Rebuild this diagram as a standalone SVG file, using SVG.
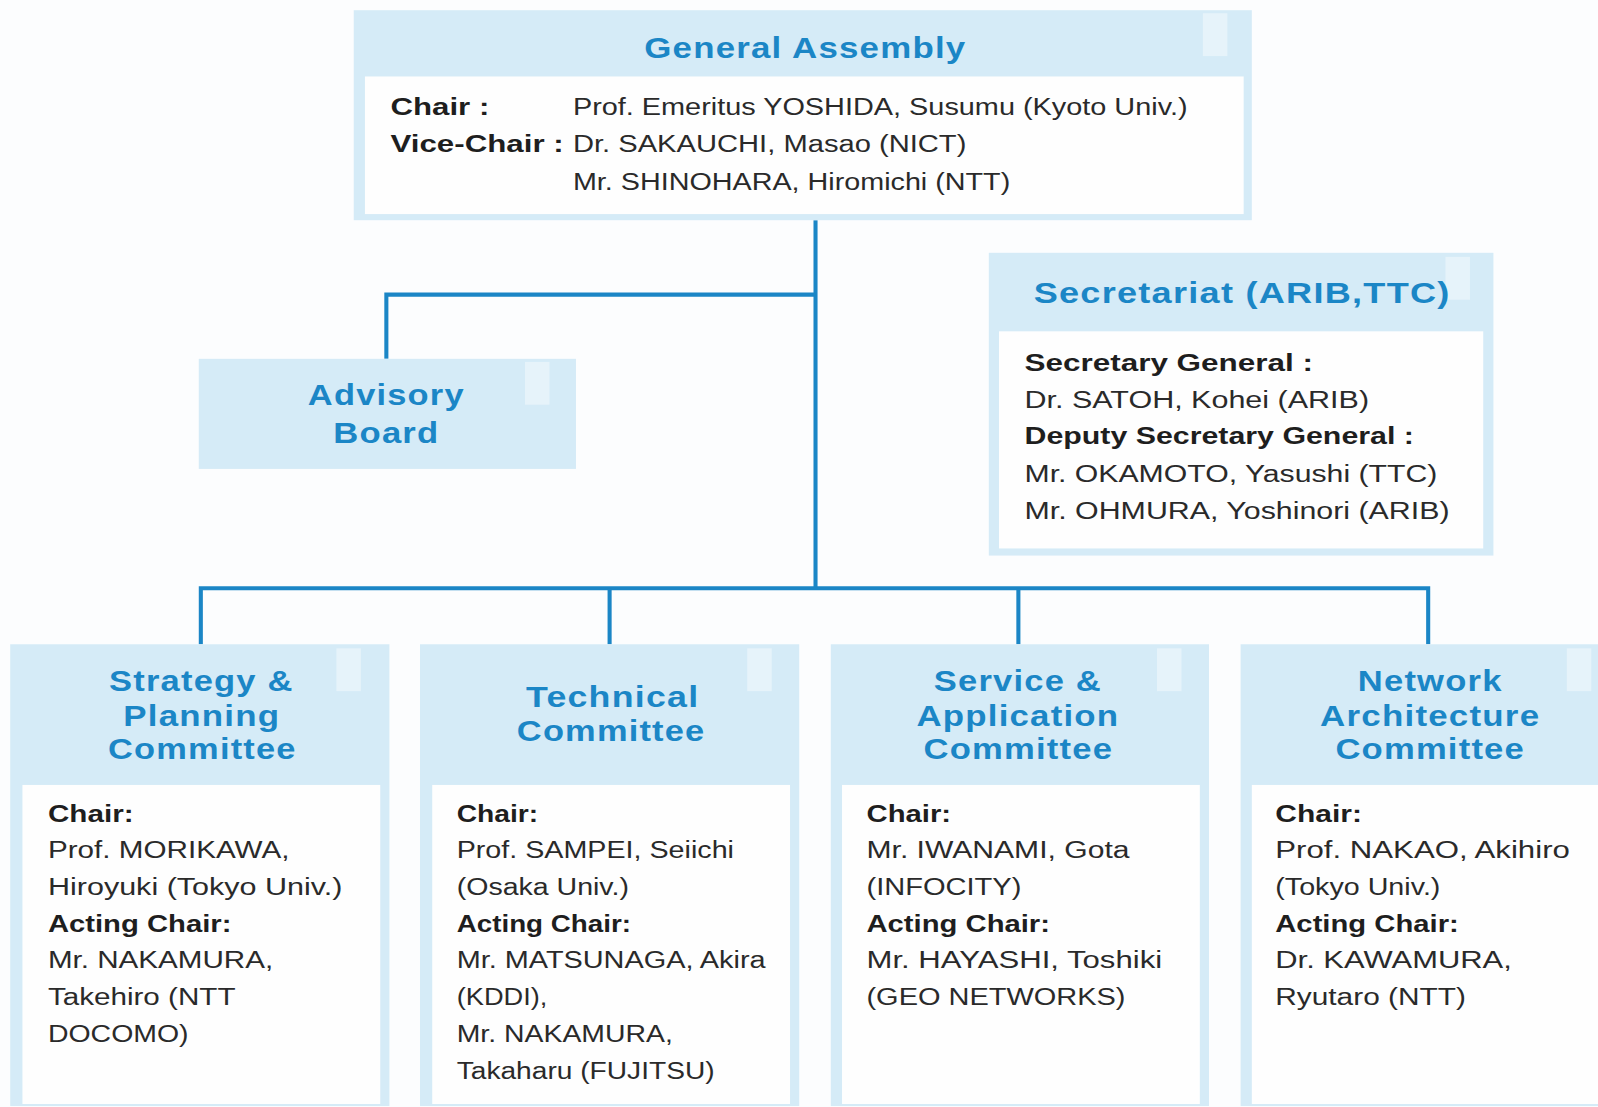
<svg xmlns="http://www.w3.org/2000/svg" width="1598" height="1107" viewBox="0 0 1598 1107">
<style>
.bg{fill:#fcfdfe}
.outer{fill:#d5ebf7}
.inner{fill:#fefefe}
.deco{fill:#e6f3fa}
.t{font-family:"Liberation Sans",Arial,sans-serif;font-weight:bold;fill:#1b86c6;text-anchor:start;font-size:29px;letter-spacing:1px}
.b{font-family:"Liberation Sans",Arial,sans-serif;font-size:23px;fill:#2a2a2a}
.bb{font-family:"Liberation Sans",Arial,sans-serif;font-size:23px;fill:#1e1e1e;font-weight:bold}
.c{fill:none;stroke:#1b86c6;stroke-width:4}
</style>
<rect class="bg" x="0" y="0" width="1598" height="1107"/>
<g transform="scale(1.0194)">
<g id="connectors">
<polyline class="c" points="800,216 800,577"/>
<polyline class="c" points="800,289 379,289 379,352"/>
<polyline class="c" points="197,632 197,577 1401,577 1401,632"/>
<polyline class="c" points="598,577 598,632"/>
<polyline class="c" points="999,577 999,632"/>
</g>
<g id="general-assembly">
<rect class="outer" x="347" y="10" width="881" height="206"/>
<rect class="deco" x="1180" y="13" width="24" height="42"/>
<rect class="inner" x="358" y="75" width="862" height="135"/>
<text class="t" x="632" y="57" textLength="316" lengthAdjust="spacingAndGlyphs">General Assembly</text>
<text class="bb" x="383" y="113" textLength="97" lengthAdjust="spacingAndGlyphs">Chair :</text>
<text class="b" x="562" y="113" textLength="603" lengthAdjust="spacingAndGlyphs">Prof. Emeritus YOSHIDA, Susumu (Kyoto Univ.)</text>
<text class="bb" x="383" y="149" textLength="170" lengthAdjust="spacingAndGlyphs">Vice-Chair :</text>
<text class="b" x="562" y="149" textLength="386" lengthAdjust="spacingAndGlyphs">Dr. SAKAUCHI, Masao (NICT)</text>
<text class="b" x="562" y="186" textLength="429" lengthAdjust="spacingAndGlyphs">Mr. SHINOHARA, Hiromichi (NTT)</text>
</g>
<g id="advisory-board">
<rect class="outer" x="195" y="352" width="370" height="108"/>
<rect class="deco" x="515" y="355" width="24" height="42"/>
<text class="t" x="302" y="397" textLength="154" lengthAdjust="spacingAndGlyphs">Advisory</text>
<text class="t" x="327" y="435" textLength="104" lengthAdjust="spacingAndGlyphs">Board</text>
</g>
<g id="secretariat">
<rect class="outer" x="970" y="248" width="495" height="297"/>
<rect class="deco" x="1418" y="252" width="24" height="42"/>
<rect class="inner" x="980" y="325" width="475" height="213"/>
<text class="t" x="1014" y="297" textLength="409" lengthAdjust="spacingAndGlyphs">Secretariat (ARIB,TTC)</text>
<text class="bb" x="1005" y="364" textLength="283" lengthAdjust="spacingAndGlyphs">Secretary General :</text>
<text class="b" x="1005" y="400" textLength="338" lengthAdjust="spacingAndGlyphs">Dr. SATOH, Kohei (ARIB)</text>
<text class="bb" x="1005" y="436" textLength="382" lengthAdjust="spacingAndGlyphs">Deputy Secretary General :</text>
<text class="b" x="1005" y="473" textLength="405" lengthAdjust="spacingAndGlyphs">Mr. OKAMOTO, Yasushi (TTC)</text>
<text class="b" x="1005" y="509" textLength="417" lengthAdjust="spacingAndGlyphs">Mr. OHMURA, Yoshinori (ARIB)</text>
</g>
<g id="strategy-planning">
<rect class="outer" x="10" y="632" width="372" height="453"/>
<rect class="deco" x="330" y="636" width="24" height="42"/>
<rect class="inner" x="22" y="770" width="351" height="313"/>
<text class="t" x="107" y="678" textLength="181" lengthAdjust="spacingAndGlyphs">Strategy &amp;</text>
<text class="t" x="121" y="712" textLength="154" lengthAdjust="spacingAndGlyphs">Planning</text>
<text class="t" x="106" y="745" textLength="185" lengthAdjust="spacingAndGlyphs">Committee</text>
<text class="bb" x="47" y="806" textLength="84" lengthAdjust="spacingAndGlyphs">Chair:</text>
<text class="b" x="47" y="842" textLength="237" lengthAdjust="spacingAndGlyphs">Prof. MORIKAWA,</text>
<text class="b" x="47" y="878" textLength="289" lengthAdjust="spacingAndGlyphs">Hiroyuki (Tokyo Univ.)</text>
<text class="bb" x="47" y="914" textLength="180" lengthAdjust="spacingAndGlyphs">Acting Chair:</text>
<text class="b" x="47" y="950" textLength="221" lengthAdjust="spacingAndGlyphs">Mr. NAKAMURA,</text>
<text class="b" x="47" y="986" textLength="184" lengthAdjust="spacingAndGlyphs">Takehiro (NTT</text>
<text class="b" x="47" y="1022" textLength="138" lengthAdjust="spacingAndGlyphs">DOCOMO)</text>
</g>
<g id="technical">
<rect class="outer" x="412" y="632" width="372" height="453"/>
<rect class="deco" x="733" y="636" width="24" height="42"/>
<rect class="inner" x="424" y="770" width="351" height="313"/>
<text class="t" x="516" y="694" textLength="170" lengthAdjust="spacingAndGlyphs">Technical</text>
<text class="t" x="507" y="727" textLength="185" lengthAdjust="spacingAndGlyphs">Committee</text>
<text class="bb" x="448" y="806" textLength="80" lengthAdjust="spacingAndGlyphs">Chair:</text>
<text class="b" x="448" y="842" textLength="272" lengthAdjust="spacingAndGlyphs">Prof. SAMPEI, Seiichi</text>
<text class="b" x="448" y="878" textLength="169" lengthAdjust="spacingAndGlyphs">(Osaka Univ.)</text>
<text class="bb" x="448" y="914" textLength="171" lengthAdjust="spacingAndGlyphs">Acting Chair:</text>
<text class="b" x="448" y="950" textLength="303" lengthAdjust="spacingAndGlyphs">Mr. MATSUNAGA, Akira</text>
<text class="b" x="448" y="986" textLength="89" lengthAdjust="spacingAndGlyphs">(KDDI),</text>
<text class="b" x="448" y="1022" textLength="212" lengthAdjust="spacingAndGlyphs">Mr. NAKAMURA,</text>
<text class="b" x="448" y="1058" textLength="253" lengthAdjust="spacingAndGlyphs">Takaharu (FUJITSU)</text>
</g>
<g id="service-application">
<rect class="outer" x="815" y="632" width="371" height="453"/>
<rect class="deco" x="1135" y="636" width="24" height="42"/>
<rect class="inner" x="826" y="770" width="351" height="313"/>
<text class="t" x="916" y="678" textLength="165" lengthAdjust="spacingAndGlyphs">Service &amp;</text>
<text class="t" x="899" y="712" textLength="199" lengthAdjust="spacingAndGlyphs">Application</text>
<text class="t" x="906" y="745" textLength="186" lengthAdjust="spacingAndGlyphs">Committee</text>
<text class="bb" x="850" y="806" textLength="83" lengthAdjust="spacingAndGlyphs">Chair:</text>
<text class="b" x="850" y="842" textLength="258" lengthAdjust="spacingAndGlyphs">Mr. IWANAMI, Gota</text>
<text class="b" x="850" y="878" textLength="152" lengthAdjust="spacingAndGlyphs">(INFOCITY)</text>
<text class="bb" x="850" y="914" textLength="180" lengthAdjust="spacingAndGlyphs">Acting Chair:</text>
<text class="b" x="850" y="950" textLength="290" lengthAdjust="spacingAndGlyphs">Mr. HAYASHI, Toshiki</text>
<text class="b" x="850" y="986" textLength="254" lengthAdjust="spacingAndGlyphs">(GEO NETWORKS)</text>
</g>
<g id="network-architecture">
<rect class="outer" x="1217" y="632" width="381" height="453"/>
<rect class="deco" x="1537" y="636" width="24" height="42"/>
<rect class="inner" x="1228" y="770" width="370" height="313"/>
<text class="t" x="1332" y="678" textLength="142" lengthAdjust="spacingAndGlyphs">Network</text>
<text class="t" x="1295" y="712" textLength="216" lengthAdjust="spacingAndGlyphs">Architecture</text>
<text class="t" x="1310" y="745" textLength="186" lengthAdjust="spacingAndGlyphs">Committee</text>
<text class="bb" x="1251" y="806" textLength="85" lengthAdjust="spacingAndGlyphs">Chair:</text>
<text class="b" x="1251" y="842" textLength="289" lengthAdjust="spacingAndGlyphs">Prof. NAKAO, Akihiro</text>
<text class="b" x="1251" y="878" textLength="162" lengthAdjust="spacingAndGlyphs">(Tokyo Univ.)</text>
<text class="bb" x="1251" y="914" textLength="180" lengthAdjust="spacingAndGlyphs">Acting Chair:</text>
<text class="b" x="1251" y="950" textLength="232" lengthAdjust="spacingAndGlyphs">Dr. KAWAMURA,</text>
<text class="b" x="1251" y="986" textLength="187" lengthAdjust="spacingAndGlyphs">Ryutaro (NTT)</text>
</g>
</g>
</svg>
